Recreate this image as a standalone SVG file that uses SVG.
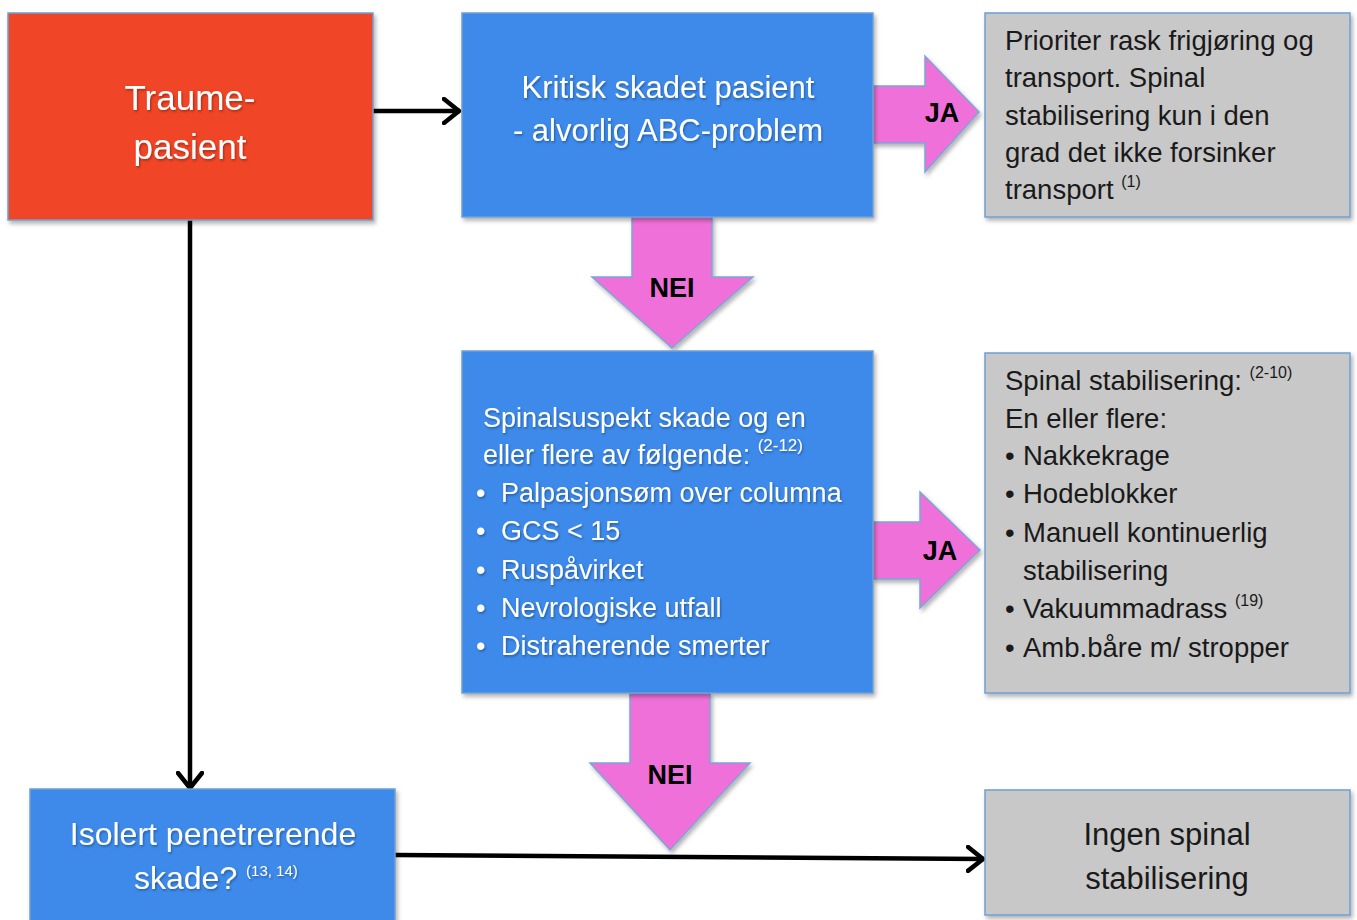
<svg xmlns="http://www.w3.org/2000/svg" width="1357" height="920" viewBox="0 0 1357 920">
<style>
.box{stroke:#6f9fd3;stroke-width:1.5;filter:url(#sh)}
.red{fill:#f04525}
.blue{fill:#3d8aeb}
.gray{fill:#c8c8c8}
.pink{fill:#f06fd9;stroke:#7aa6d6;stroke-width:1.5;filter:url(#sh)}
.wt{font-family:"Liberation Sans",Arial,sans-serif;fill:#ffffff;filter:url(#tsh)}
.dt{font-family:"Liberation Sans",Arial,sans-serif;fill:#1a1a1a}
.lbl{font-family:"Liberation Sans",Arial,sans-serif;font-weight:bold;font-size:27px;fill:#000000;text-anchor:middle}
.con{stroke:#000000;stroke-width:4.5;fill:none}
</style>
<defs>
<filter id="sh" x="-10%" y="-10%" width="120%" height="130%">
<feDropShadow dx="2" dy="3" stdDeviation="2" flood-color="#000000" flood-opacity="0.3"/>
</filter>
<filter id="tsh" x="-5%" y="-20%" width="110%" height="140%">
<feDropShadow dx="1" dy="1.5" stdDeviation="0.8" flood-color="#000000" flood-opacity="0.35"/>
</filter>
<marker id="chev" viewBox="0 0 20 28" refX="18" refY="14" markerWidth="20" markerHeight="28" markerUnits="userSpaceOnUse" orient="auto">
<path d="M2,2 L17,14 L2,26" fill="none" stroke="#000000" stroke-width="4.5" stroke-linecap="round" stroke-linejoin="round"/>
</marker>
</defs>

<g id="connectors">
<line class="con" x1="373" y1="111" x2="460" y2="111" marker-end="url(#chev)"/>
<line class="con" x1="190" y1="220" x2="190" y2="789" marker-end="url(#chev)"/>
<line class="con" x1="395" y1="855" x2="984" y2="859" marker-end="url(#chev)"/>
</g>

<g id="arrow-nei-1">
<polygon class="pink" points="632,217 712,217 712,277 753,277 672,348 592,277 632,277"/>
<text class="lbl" x="672" y="297">NEI</text>
</g>
<g id="arrow-nei-2">
<polygon class="pink" points="630,693 710,693 710,763 750,763 670,850 590,763 630,763"/>
<text class="lbl" x="670" y="784">NEI</text>
</g>
<g id="arrow-ja-1">
<polygon class="pink" points="873,86 925,86 925,56 979,112 925,172 925,143 873,143"/>
<text class="lbl" x="942" y="122">JA</text>
</g>
<g id="arrow-ja-2">
<polygon class="pink" points="873,522 920,522 920,492 980,550 920,608 920,579 873,579"/>
<text class="lbl" x="940" y="560">JA</text>
</g>

<g id="traume">
<rect class="box red" x="8" y="13" width="365" height="207"/>
<text class="wt" font-size="35" text-anchor="middle"><tspan x="190" y="110">Traume-</tspan><tspan x="190" y="159">pasient</tspan></text>
</g>

<g id="kritisk">
<rect class="box blue" x="462" y="13" width="411" height="204"/>
<text class="wt" font-size="31" text-anchor="middle"><tspan x="668" y="98">Kritisk skadet pasient</tspan><tspan x="668" y="141">- alvorlig ABC-problem</tspan></text>
</g>

<g id="prioriter">
<rect class="box gray" x="985" y="13" width="365" height="204"/>
<text class="dt" font-size="27.5"><tspan x="1005" y="50">Prioriter rask frigjøring og</tspan><tspan x="1005" y="87">transport. Spinal</tspan><tspan x="1005" y="125">stabilisering kun i den</tspan><tspan x="1005" y="162">grad det ikke forsinker</tspan><tspan x="1005" y="199">transport <tspan font-size="16" dy="-12">(1)</tspan></tspan></text>
</g>

<g id="spinalsuspekt">
<rect class="box blue" x="462" y="351" width="411" height="342"/>
<text class="wt" font-size="27"><tspan x="483" y="427">Spinalsuspekt skade og en</tspan><tspan x="483" y="464">eller flere av følgende: <tspan font-size="17" dy="-13">(2-12)</tspan></tspan></text>
<text class="wt" font-size="27"><tspan x="476" y="502">•</tspan><tspan x="501" y="502">Palpasjonsøm over columna</tspan><tspan x="476" y="540">•</tspan><tspan x="501" y="540">GCS &lt; 15</tspan><tspan x="476" y="579">•</tspan><tspan x="501" y="579">Ruspåvirket</tspan><tspan x="476" y="617">•</tspan><tspan x="501" y="617">Nevrologiske utfall</tspan><tspan x="476" y="655">•</tspan><tspan x="501" y="655">Distraherende smerter</tspan></text>
</g>

<g id="stabilisering">
<rect class="box gray" x="985" y="353" width="365" height="340"/>
<text class="dt" font-size="27.5"><tspan x="1005" y="390">Spinal stabilisering: <tspan font-size="16" dy="-12">(2-10)</tspan></tspan><tspan x="1005" y="428">En eller flere:</tspan></text>
<text class="dt" font-size="27.5"><tspan x="1005" y="465">•</tspan><tspan x="1023" y="465">Nakkekrage</tspan><tspan x="1005" y="503">•</tspan><tspan x="1023" y="503">Hodeblokker</tspan><tspan x="1005" y="542">•</tspan><tspan x="1023" y="542">Manuell kontinuerlig</tspan><tspan x="1023" y="580">stabilisering</tspan><tspan x="1005" y="618">•</tspan><tspan x="1023" y="618">Vakuummadrass <tspan font-size="16" dy="-12">(19)</tspan></tspan><tspan x="1005" y="657">•</tspan><tspan x="1023" y="657">Amb.båre m/ stropper</tspan></text>
</g>

<g id="isolert">
<rect class="box blue" x="30" y="789" width="365" height="140"/>
<text class="wt" font-size="32" text-anchor="middle"><tspan x="213" y="845">Isolert penetrerende</tspan></text>
<text class="wt" font-size="32"><tspan x="134" y="889">skade? <tspan font-size="15" dy="-13">(13, 14)</tspan></tspan></text>
</g>

<g id="ingen">
<rect class="box gray" x="985" y="790" width="365" height="125"/>
<text class="dt" font-size="31" text-anchor="middle"><tspan x="1167" y="845">Ingen spinal</tspan><tspan x="1167" y="889">stabilisering</tspan></text>
</g>
</svg>
